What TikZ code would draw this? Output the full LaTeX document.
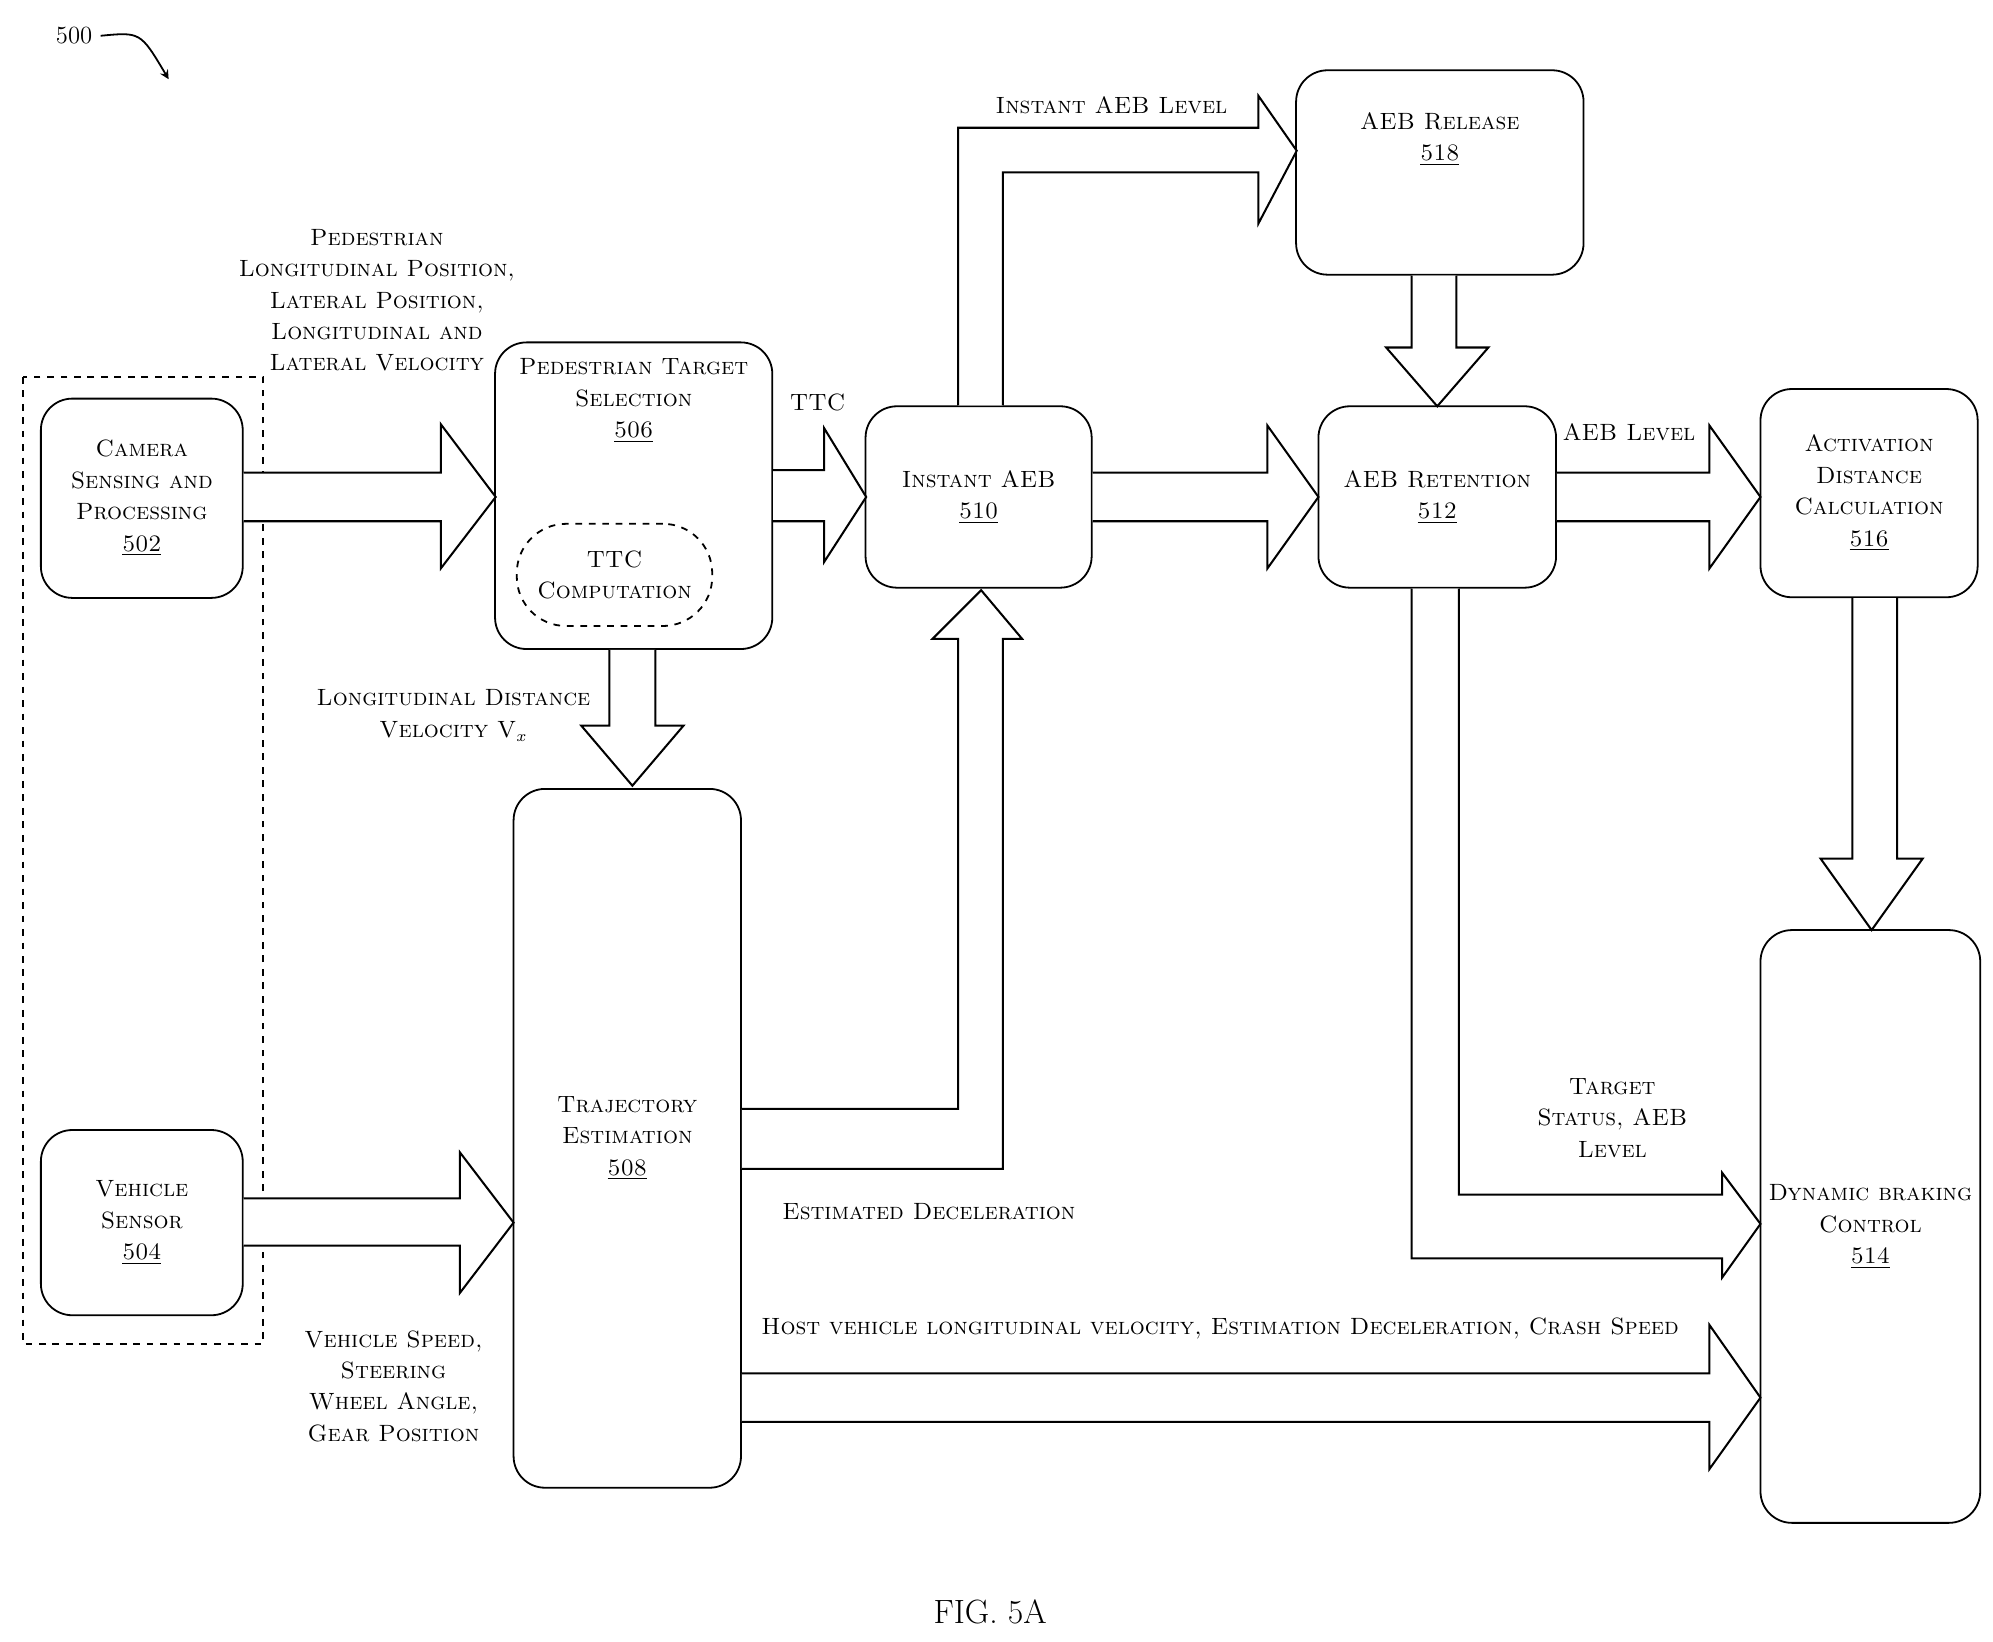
\documentclass[tikz,border=0pt]{standalone}
\usetikzlibrary{positioning}
\begin{document}
\begin{tikzpicture}[x=0.02cm,y=-0.02cm,thick,line join=miter]
	\tikzstyle{blk}=[draw,rounded corners=14pt,align=center,inner sep=0pt,font=\fontsize{10.5}{14}\selectfont\scshape];
	\tikzstyle{lbl}=[align=center,font=\fontsize{10.5}{14}\selectfont\scshape];
	\tikzstyle{fat}=[draw,fill=white,line width=0.9pt];
	\useasboundingbox (0,0) rectangle (1560,1285);
	%% blocks
	\draw[dashed,line width=1pt] (18,295) rectangle (206,1052);
	\node[blk,minimum width=158*0.02cm,minimum height=156*0.02cm] (cam) at (111,390) {Camera\\Sensing and\\Processing\\\underline{502}};
	\node[blk,minimum width=158*0.02cm,minimum height=145*0.02cm] (veh) at (111,957) {Vehicle\\Sensor\\\underline{504}};
	\node[blk,minimum width=217*0.02cm,minimum height=240*0.02cm] (ped) at (496,388) {};
	\node[lbl,below=4pt of ped.north] (pedt) {Pedestrian Target\\Selection\\\underline{506}};
	\node[blk,dashed,rounded corners=22pt,minimum width=153*0.02cm,minimum height=80*0.02cm] (ttc) at (481,450) {TTC\\Computation};
	\node[blk,minimum width=178*0.02cm,minimum height=547*0.02cm] (traj) at (491,891) {Trajectory\\Estimation\\\underline{508}};
	\node[blk,minimum width=177*0.02cm,minimum height=142*0.02cm] (inst) at (766,389) {Instant AEB\\\underline{510}};
	\node[blk,minimum width=225*0.02cm,minimum height=160*0.02cm] (rel) at (1127,135) {AEB Release\\\underline{518}\\[18pt]};
	\node[blk,minimum width=186*0.02cm,minimum height=142*0.02cm] (ret) at (1125,389) {AEB Retention\\\underline{512}};
	\node[blk,minimum width=170*0.02cm,minimum height=163*0.02cm] (act) at (1463,386) {Activation\\Distance\\Calculation\\\underline{516}};
	\node[blk,minimum width=172*0.02cm,minimum height=464*0.02cm] (dyn) at (1464,960) {Dynamic braking\\Control\\\underline{514}};
	%% horizontal arrows
	\draw[fat] (cam.east|-0,370) -- (345,370) -- (345,332) -- (388,389) -- (345,445) -- (345,408) -- (cam.east|-0,408);
	\draw[fat] (ped.east|-0,368) -- (645,368) -- (645,335) -- (678,389) -- (645,440) -- (645,408) -- (ped.east|-0,408);
	\draw[fat] (inst.east|-0,370) -- (992,370) -- (992,333) -- (1032,389) -- (992,445) -- (992,408) -- (inst.east|-0,408);
	\draw[fat] (ret.east|-0,370) -- (1338,370) -- (1338,333) -- (1378,389) -- (1338,445) -- (1338,408) -- (ret.east|-0,408);
	\draw[fat] (veh.east|-0,938) -- (360,938) -- (360,902) -- (402,957) -- (360,1012) -- (360,975) -- (veh.east|-0,975);
	\draw[fat] (traj.east|-0,1075) -- (1338,1075) -- (1338,1037) -- (1378,1094) -- (1338,1150) -- (1338,1113) -- (traj.east|-0,1113);
	%% vertical arrows
	\draw[fat] (477,0|-ped.south) -- (477,568) -- (455,568) -- (495,615) -- (535,568) -- (513,568) -- (513,0|-ped.south);
	\draw[fat] (1105,0|-rel.south) -- (1105,272) -- (1085,272) -- (1125,318) -- (1165,272) -- (1140,272) -- (1140,0|-rel.south);
	\draw[fat] (1450,0|-act.south) -- (1450,672) -- (1425,672) -- (1465,728) -- (1505,672) -- (1485,672) -- (1485,0|-act.south);
	%% bent arrows
	\draw[fat] (750,0|-inst.north) -- (750,100) -- (985,100) -- (985,75) -- (1015,118) -- (985,175) -- (985,135) -- (785,135) -- (785,0|-inst.north);
	\draw[fat] (traj.east|-0,868) -- (750,868) -- (750,500) -- (730,500) -- (768,462) -- (800,500) -- (785,500) -- (785,915) -- (traj.east|-0,915);
	\draw[fat] (1105,0|-ret.south) -- (1105,985) -- (1348,985) -- (1348,1000) -- (1378,958) -- (1348,918) -- (1348,935) -- (1142,935) -- (1142,0|-ret.south);
	%% labels
	\node[lbl] (l1) at (295,235) {Pedestrian\\Longitudinal Position,\\Lateral Position,\\Longitudinal and\\Lateral Velocity};
	\node[lbl] (l2) at (640,315) {TTC};
	\node[lbl] (l3) at (870,82) {Instant AEB Level};
	\node[lbl] (l4) at (1275,338) {AEB Level};
	\node[lbl] (l5) at (355,560) {Longitudinal Distance\\Velocity V$_x$};
	\node[lbl] (l6) at (727,948) {Estimated Deceleration};
	\node[lbl] (l7) at (1262,875) {Target\\Status, AEB\\Level};
	\node[lbl] (l8) at (955,1040) {Host vehicle longitudinal velocity, Estimation Deceleration, Crash Speed};
	\node[lbl] (l9) at (308,1085) {Vehicle Speed,\\Steering\\Wheel Angle,\\Gear Position};
	\node[font=\fontsize{15}{18}\selectfont] (fig) at (775,1262) {FIG. 5A};
	\node[font=\fontsize{11}{14}\selectfont] (ref) at (58,28) {500};
	\draw[->,>=stealth] (ref.east) .. controls (110,25) .. (132,62);
\end{tikzpicture}
\end{document}
